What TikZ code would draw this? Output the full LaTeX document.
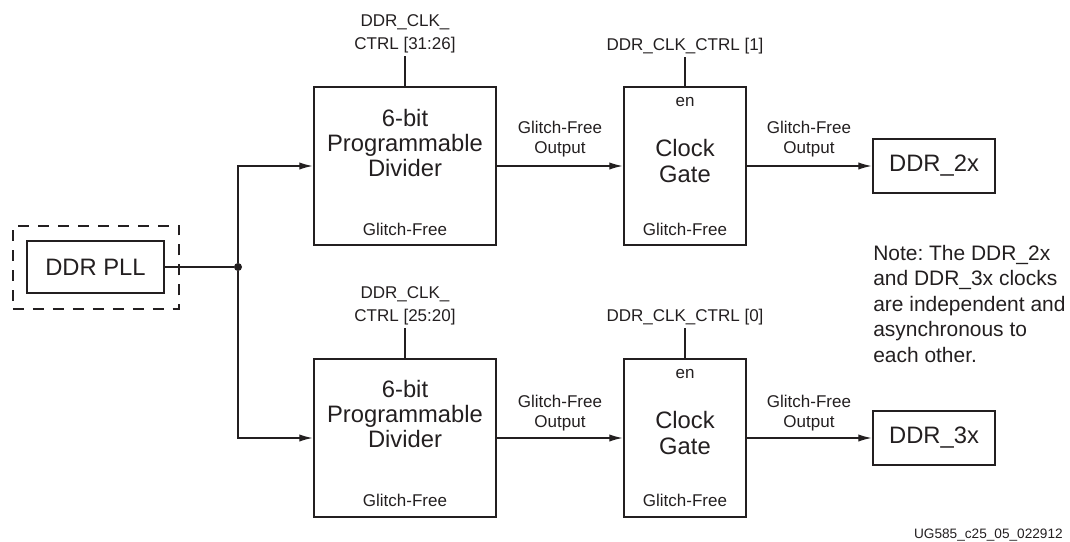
\documentclass[tikz,border=0pt]{standalone}
\usepackage{fontspec}
\setmainfont{Liberation Sans}
\usetikzlibrary{arrows.meta}
\definecolor{ink}{HTML}{231F20}
\frenchspacing

\begin{document}
\begin{tikzpicture}[
    x=0.025cm, y=-0.025cm,
    every node/.style={text=ink},
    block/.style={draw=ink, line width=1.9pt, minimum height=3.95cm, inner sep=0pt},
    divbox/.style={block, minimum width=4.55cm},
    gatebox/.style={block, minimum width=3.05cm},
    outbox/.style={block, minimum width=3.05cm, minimum height=1.35cm, font=\fontsize{16.9}{18}\selectfont},
    bigtxt/.style={align=center, font=\fontsize{16.9}{17.8}\selectfont},
    smalltxt/.style={align=center, font=\fontsize{12.1}{14.2}\selectfont},
    ctrl/.style={align=center, anchor=south, inner sep=2pt, font=\fontsize{12.1}{16.4}\selectfont},
    wire/.style={draw=ink, line width=0.9pt},
    arrow/.style={wire, -{Latex[length=9.5pt,width=5.2pt]}}
]
\useasboundingbox (0,0) rectangle (1070,541);

% clock source
\node[draw=ink, line width=1pt, dash pattern=on 7.8pt off 6.4pt, minimum width=4.15cm, minimum height=2.075cm] (pllbox) at (96,267.5) {};
\node[block, minimum width=3.425cm, minimum height=1.3cm, font=\fontsize{16.9}{18}\selectfont] (pll) at (95.5,267) {DDR PLL};
\node[circle, fill=ink, inner sep=0pt, minimum size=0.2cm] (dot) at (238,267) {};

% dividers and gates
\node[divbox] (div1) at (405,166) {};
\node[divbox] (div2) at (405,438) {};
\node[gatebox] (gate1) at (685,166) {};
\node[gatebox] (gate2) at (685,438) {};
\node[outbox] (out2x) at (934,166) {DDR\_2x};
\node[outbox] (out3x) at (934,438) {DDR\_3x};

% text inside the blocks
\node[bigtxt] (div1t) at (405,143) {6-bit\\Programmable\\Divider};
\node[bigtxt] (div2t) at (405,414) {6-bit\\Programmable\\Divider};
\node[bigtxt] (gate1t) at (685,161) {Clock\\Gate};
\node[bigtxt] (gate2t) at (685,433) {Clock\\Gate};
\node[smalltxt] (div1g) at (405,229) {Glitch-Free};
\node[smalltxt] (div2g) at (405,500) {Glitch-Free};
\node[smalltxt] (gate1g) at (685,229) {Glitch-Free};
\node[smalltxt] (gate2g) at (685,500) {Glitch-Free};
\node[smalltxt] (gate1en) at (685,102) {en};
\node[smalltxt] (gate2en) at (685,374) {en};

% control inputs
\node[ctrl] (ctrl1) at (405,56) {DDR\_CLK\_\\CTRL [31:26]};
\node[ctrl] (ctrl2) at (405,328) {DDR\_CLK\_\\CTRL [25:20]};
\node[ctrl] (en1) at (685,57) {DDR\_CLK\_CTRL [1]};
\node[ctrl] (en0) at (685,328) {DDR\_CLK\_CTRL [0]};

% output labels
\node[smalltxt] (o1) at (560,139) {Glitch-Free\\Output};
\node[smalltxt] (o2) at (809,139) {Glitch-Free\\Output};
\node[smalltxt] (o3) at (560,413) {Glitch-Free\\Output};
\node[smalltxt] (o4) at (809,413) {Glitch-Free\\Output};

\node[anchor=north west, align=left, inner sep=0pt, font=\fontsize{14.9}{18.1}\selectfont] (note) at (873,245) {Note: The DDR\_2x\\and DDR\_3x clocks\\are independent and\\asynchronous to\\each other.};
\node[anchor=base east, inner sep=0pt, font=\fontsize{9.7}{11}\selectfont] (figid) at (1063,538) {UG585\_c25\_05\_022912};

\draw[wire] (pll) -- (dot);
\draw[arrow] (dot) |- (div1.west);
\draw[arrow] (dot) |- (div2.west);
\draw[arrow] (div1) -- (gate1);
\draw[arrow] (div2) -- (gate2);
\draw[arrow] (gate1) -- (out2x);
\draw[arrow] (gate2) -- (out3x);
\draw[wire] (ctrl1) -- (div1);
\draw[wire] (ctrl2) -- (div2);
\draw[wire] (en1) -- (gate1);
\draw[wire] (en0) -- (gate2);
\end{tikzpicture}
\end{document}
